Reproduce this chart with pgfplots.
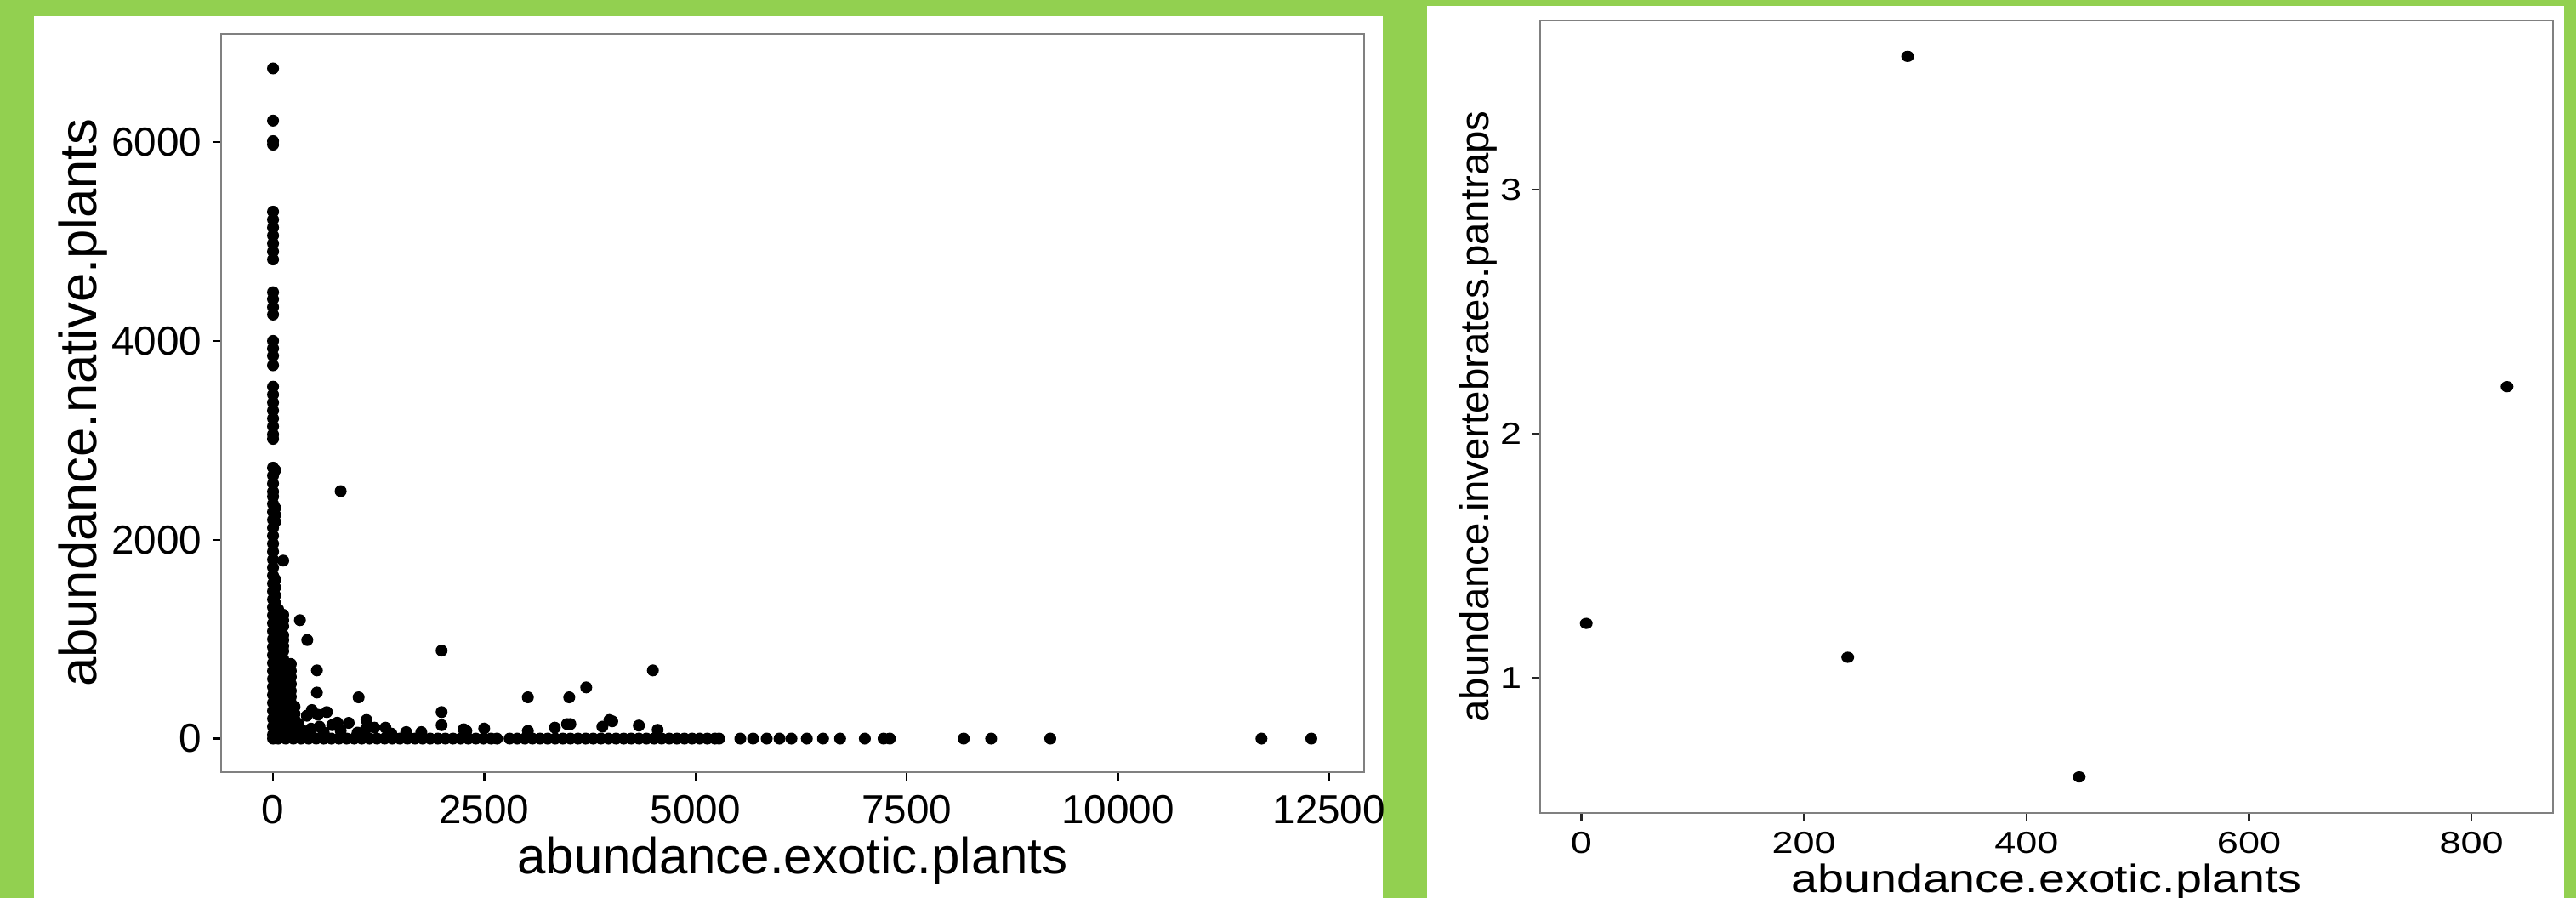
\documentclass[border=0pt]{standalone}
\usepackage{pgfplots}
\pgfplotsset{compat=1.18}
\usepackage{fontspec}
\setmainfont{Liberation Sans}
\newfontfamily\rfont[FakeStretch=1.2]{Liberation Sans}
\newfontfamily\rtfont[FakeStretch=1.25]{Liberation Sans}
\definecolor{slidegreen}{RGB}{146,208,80}
\definecolor{boxgray}{RGB}{128,128,128}
\begin{document}
\begin{tikzpicture}
\useasboundingbox (0,0) rectangle (757.25pt,264pt);
\fill[slidegreen] (0,0) rectangle (757.25pt,264pt);
\clip (0,0) rectangle (757.25pt,264pt);
\fill[white] (10pt,0) rectangle (406.5pt,259.25pt);
\fill[white] (419.5pt,0) rectangle (753.75pt,262.25pt);
\begin{axis}[
  at={(65pt,37pt)}, anchor=south west,
  scale only axis, width=336pt, height=217pt,
  xmin=-615, xmax=12915, ymin=-337.5, ymax=7087.5,
  axis line style={boxgray, line width=0.6pt},
  tick align=outside, major tick length=2.5pt,
  tick style={black, line width=0.6pt},
  xtick={0,2500,5000,7500,10000,12500},
  ytick={0,2000,4000,6000},
  xtick pos=bottom, ytick pos=left,
  scaled ticks=false,
  /pgf/number format/1000 sep={},
  /pgf/number format/assume math mode=true,
  tick label style={font=\fontsize{11.9}{12}\selectfont},
  xticklabel style={inner sep=0pt, yshift=-4pt},
  yticklabel style={inner sep=0pt, xshift=-3pt},
  xlabel={abundance.exotic.plants},
  ylabel={abundance.native.plants},
  xlabel style={font=\fontsize{15}{16}\selectfont, at={(axis description cs:0.5,0)}, anchor=base, inner sep=0pt, yshift=-30pt},
  ylabel style={font=\fontsize{15.4}{16}\selectfont, at={(axis description cs:0,0.5)}, anchor=base, inner sep=0pt, yshift=36.5pt},
]
\addplot[only marks, mark=*, mark size=1.6pt, mark options={black, line width=0.3pt}] coordinates {
(0,6741) (0,6216) (0,6010) (0,5975) (0,5300) (0,5220) (0,5140) (0,5060) (0,4980) (0,4900) (0,4820)
(0,4490) (0,4420) (0,4340) (0,4265) (0,4000) (0,3925) (0,3850) (0,3755)
(0,3540) (0,3460) (0,3380) (0,3300) (0,3220) (0,3140) (0,3060) (0,3015)
(0,2725) (0,2645) (0,2565) (0,2485) (0,2435)
(0,2360) (0,2280) (0,2200) (0,2120) (0,2040) (0,1960) (0,1880) (0,1800) (0,1720) (0,1640)
(0,1560) (0,1480) (0,1400) (0,1320) (0,1240) (0,1160) (0,1080) (0,1000) (0,920) (0,840)
(0,760) (0,680) (0,600) (0,520) (0,440) (0,360) (0,280) (0,200) (0,120) (0,40) (0,0)
(25,2700) (25,2320) (25,2250) (25,2180) (25,1600) (25,1520) (25,1440) (25,1360) (25,900) (25,850)
(120,1790) (120,1245) (120,1190) (120,1130) (120,1040) (120,990) (120,930)
(52,1100) (52,1050) (87,830) (87,760)
(210,750) (210,680) (210,620) (210,550) (210,480) (210,420) (210,360)
(120,600) (120,560) (254,320) (254,250) (254,190)
(60,1300) (60,1220) (60,1140) (60,1060) (60,980) (60,900) (60,820) (60,740) (60,660) (60,580)
(60,500) (60,420) (60,340) (60,260) (60,180) (60,100)
(120,880) (120,800) (120,720) (120,640) (120,520) (120,440) (120,360) (120,280) (120,200) (120,120) (120,40)
(180,700) (180,620) (180,540) (180,460) (180,380) (180,300) (180,220) (180,140) (180,60)
(240,140) (240,60)
(318,1191) (405,991) (519,686) (519,463) (459,287) (636,267) (800,2489)
(1995,885) (1995,267) (1995,135) (1013,415) (3016,415) (3506,415) (3707,515) (4496,686)
(400,230) (530,240) (700,135) (760,160) (895,158) (1106,187) (1200,110) (1330,110)
(300,150) (350,80) (450,100) (550,120) (600,60) (800,80) (1000,60) (1100,100) (1400,50)
(1576,65) (1755,65) (2256,94) (2288,77) (2499,101) (3016,77) (3335,110) (3480,146) (3519,146)
(3898,120) (3982,187) (4015,174) (4330,131) (4552,88)
(60,0) (150,0) (240,0) (330,0) (420,0) (510,0) (600,0) (690,0) (780,0) (870,0) (960,0)
(1050,0) (1140,0) (1230,0) (1320,0) (1410,0) (1500,0) (1590,0) (1680,0) (1770,0) (1860,0)
(1950,0) (2040,0) (2130,0) (2220,0) (2310,0) (2400,0) (2490,0) (2580,0) (2650,0)
(2800,0) (2890,0) (2980,0) (3070,0) (3160,0) (3250,0) (3340,0) (3430,0) (3520,0) (3610,0)
(3700,0) (3790,0) (3880,0) (3970,0) (4060,0) (4150,0) (4240,0) (4330,0) (4420,0) (4510,0)
(4600,0) (4690,0) (4780,0) (4870,0) (4960,0) (5050,0) (5140,0) (5230,0) (5280,0)
(5531,0) (5682,0) (5843,0) (5995,0) (6136,0) (6318,0) (6510,0) (6712,0) (7005,0) (7227,0) (7300,0)
(8175,0) (8500,0) (9200,0) (11700,0) (12290,0)
};
\end{axis}
\begin{axis}[
  at={(452.75pt,25pt)}, anchor=south west,
  scale only axis, width=297.75pt, height=233pt,
  xmin=-37, xmax=873.2, ymin=0.4464, ymax=3.6936,
  axis line style={boxgray, line width=0.55pt},
  tick align=outside, major tick length=2.5pt,
  tick style={black!85, line width=0.55pt},
  xtick={0,200,400,600,800},
  ytick={1,2,3},
  xtick pos=bottom, ytick pos=left,
  /pgf/number format/assume math mode=true,
  tick label style={font=\rtfont\fontsize{9}{10}\selectfont},
  xticklabel style={inner sep=0pt, yshift=-3pt},
  yticklabel style={inner sep=0pt, xshift=-2.75pt},
  xlabel={abundance.exotic.plants},
  ylabel={abundance.invertebrates.pantraps},
  xlabel style={font=\rfont\fontsize{11.6}{13}\selectfont, at={(axis description cs:0.5,0)}, anchor=base, inner sep=0pt, yshift=-23.5pt},
  ylabel style={font=\fontsize{11.85}{13}\selectfont, at={(axis description cs:0,0.5)}, anchor=base, inner sep=0pt, yshift=15.25pt},
]
\addplot[only marks, mark=*, mark size=1.5pt, mark options={black, line width=0.3pt, xscale=1.15}] coordinates {
(4.4,1.223) (239.4,1.084) (293.2,3.546) (447.4,0.594) (831.8,2.193)
};
\end{axis}
\end{tikzpicture}
\end{document}
